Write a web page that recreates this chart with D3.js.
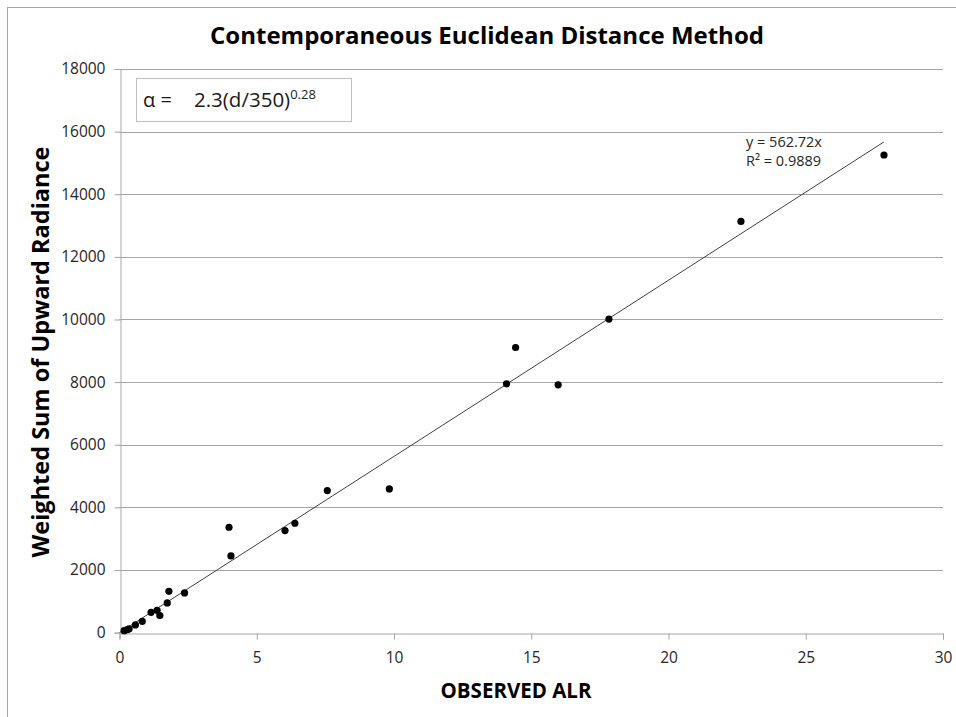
<!DOCTYPE html>
<html>
<head>
<meta charset="utf-8">
<script src="https://cdn.jsdelivr.net/npm/d3@7"></script>
<style>
  body { margin: 0; background: #fff; }
  text { font-family: "Open Sans", "Noto Sans", sans-serif; }
</style>
</head>
<body>
<div id="chart"></div>
<script>
// Data
const alrObserved = [0.17, 0.28, 0.35, 0.58, 0.83, 1.15, 1.37, 1.47, 1.74, 1.80, 2.37,
  3.99, 4.06, 6.03, 6.39, 7.57, 9.83, 14.10, 14.43, 15.98, 17.83, 22.64, 27.85];
const radianceSum = [60, 95, 120, 246, 361, 648, 712, 543, 948, 1318, 1267,
  3365, 2448, 3257, 3493, 4535, 4589, 7945, 9105, 7913, 10013, 13132, 15254];
const xTicks = [0, 5, 10, 15, 20, 25, 30];
const yTicks = [0, 2000, 4000, 6000, 8000, 10000, 12000, 14000, 16000, 18000];
const slope = 562.72;
const trendLabels = ["y = 562.72x", "R² = 0.9889"];

const width = 956;
const height = 717;

const svg = d3.select("#chart")
  .append("svg")
  .attr("width", width)
  .attr("height", height);

// outer chart frame (only top/left visible)
svg.append("rect")
  .attr("x", 7.5)
  .attr("y", 7.5)
  .attr("width", width + 20)
  .attr("height", height + 20)
  .attr("fill", "none")
  .attr("stroke", "#a6a6a6");

const xScale = d3.scaleLinear().domain([0, 30]).range([119.5, 943]);
const yScale = d3.scaleLinear().domain([0, 18000]).range([632.6, 69]);

// horizontal gridlines
svg.append("g")
  .selectAll("line")
  .data(yTicks.filter((d) => d > 0))
  .enter()
  .append("line")
  .attr("x1", xScale(0))
  .attr("x2", xScale(30))
  .attr("y1", (d) => Math.round(yScale(d)) + 0.5)
  .attr("y2", (d) => Math.round(yScale(d)) + 0.5)
  .attr("stroke", "#a6a6a6");

// axes
const xAxis = d3.axisBottom(xScale).tickValues(xTicks).tickSize(6).tickPadding(12);
const yAxis = d3.axisLeft(yScale).tickValues(yTicks).tickFormat(d3.format("d"))
  .tickSize(6).tickPadding(9);

const gx = svg.append("g")
  .attr("transform", `translate(0, ${Math.round(yScale(0)) + 0.5})`)
  .call(xAxis);

const gy = svg.append("g")
  .attr("transform", `translate(${Math.round(xScale(0)) + 0.5}, 0)`)
  .call(yAxis);

[gx, gy].forEach((g) => {
  g.selectAll("path, line").attr("stroke", "#a6a6a6");
  g.selectAll("text")
    .attr("fill", "#262626")
    .style("font-size", "15.5px")
    .style("font-family", "'Open Sans', sans-serif");
});

// trendline y = 562.72x
const maxX = d3.max(alrObserved);
svg.append("line")
  .attr("x1", xScale(0))
  .attr("y1", yScale(0))
  .attr("x2", xScale(maxX))
  .attr("y2", yScale(slope * maxX))
  .attr("stroke", "#404040")
  .attr("stroke-width", 1);

// points
svg.append("g")
  .selectAll("circle")
  .data(alrObserved.map((x, i) => ({ x, y: radianceSum[i] })))
  .enter()
  .append("circle")
  .attr("cx", (d) => xScale(d.x))
  .attr("cy", (d) => yScale(d.y))
  .attr("r", 3.6)
  .attr("fill", "#000");

// trendline label
svg.append("g")
  .selectAll("text")
  .data(trendLabels)
  .enter()
  .append("text")
  .attr("x", 746)
  .attr("y", (d, i) => 147 + i * 19)
  .attr("fill", "#262626")
  .style("font-size", "14.5px")
  .text((d) => d);

// formula box
svg.append("rect")
  .attr("x", 136.5)
  .attr("y", 78.5)
  .attr("width", 215)
  .attr("height", 43)
  .attr("fill", "#fff")
  .attr("stroke", "#bfbfbf");

svg.append("text")
  .attr("x", 143)
  .attr("y", 107)
  .attr("fill", "#1a1a1a")
  .style("font-size", "20px")
  .text("α =");

const formula = svg.append("text")
  .attr("x", 194)
  .attr("y", 107)
  .attr("fill", "#1a1a1a")
  .style("font-size", "20.5px");
formula.append("tspan").text("2.3(d/350)");
formula.append("tspan")
  .attr("dy", -8)
  .style("font-size", "13px")
  .text("0.28");

// titles
svg.append("text")
  .attr("x", 487)
  .attr("y", 44)
  .attr("text-anchor", "middle")
  .attr("fill", "#000")
  .style("font-size", "24px")
  .style("font-weight", "bold")
  .text("Contemporaneous Euclidean Distance Method");

svg.append("text")
  .attr("x", 516)
  .attr("y", 698)
  .attr("text-anchor", "middle")
  .attr("fill", "#000")
  .style("font-size", "20.5px")
  .style("font-weight", "bold")
  .text("OBSERVED ALR");

svg.append("text")
  .attr("transform", "translate(49, 352) rotate(-90)")
  .attr("text-anchor", "middle")
  .attr("fill", "#000")
  .style("font-size", "23.5px")
  .style("font-weight", "bold")
  .text("Weighted Sum of Upward Radiance");
</script>
</body>
</html>
